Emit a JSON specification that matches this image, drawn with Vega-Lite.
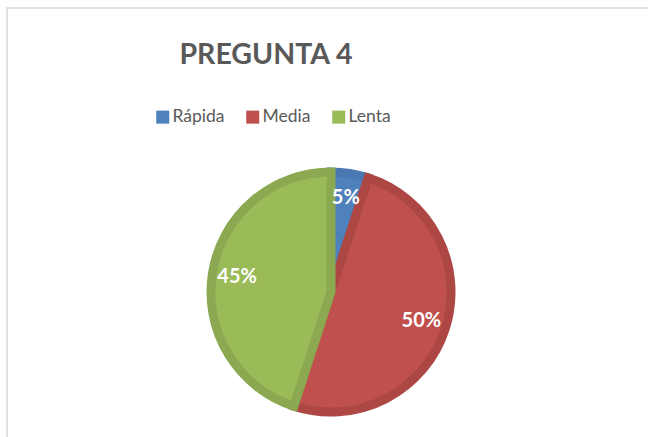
{
  "$schema": "https://vega.github.io/schema/vega-lite/v6.json",
  "autosize": {"type": "none"},
  "width": 648,
  "height": 568,
  "padding": {"left": 7, "top": 8, "right": 0, "bottom": 0},
  "background": "white",
  "view": {"stroke": "#d9d9d9", "strokeWidth": 1.5},
  "title": {
    "text": "PREGUNTA 4",
    "font": "Lato",
    "fontSize": 28.5,
    "fontWeight": "bold",
    "color": "#595959",
    "anchor": "middle",
    "orient": "top",
    "baseline": "alphabetic",
    "dx": -65,
    "dy": 84,
    "offset": 0
  },
  "data": {
    "values": [
      {"categoria": "Rápida", "valor": 5, "etiqueta": "5%", "orden": 1},
      {"categoria": "Media", "valor": 50, "etiqueta": "50%", "orden": 2},
      {"categoria": "Lenta", "valor": 45, "etiqueta": "45%", "orden": 3}
    ]
  },
  "encoding": {
    "theta": {"field": "valor", "type": "quantitative", "stack": true},
    "order": {"field": "orden", "type": "quantitative"}
  },
  "layer": [
    {
      "mark": {"type": "arc", "outerRadius": 120, "strokeWidth": 9, "strokeJoin": "miter"},
      "encoding": {
        "color": {
          "field": "categoria",
          "type": "nominal",
          "sort": ["Rápida", "Media", "Lenta"],
          "scale": {"domain": ["Rápida", "Media", "Lenta"], "range": ["#4F81BD", "#C0504D", "#9BBB59"]},
          "legend": {
            "title": null,
            "orient": "none",
            "direction": "horizontal",
            "legendX": 147,
            "legendY": 100,
            "symbolType": "square",
            "symbolSize": 170,
            "symbolStrokeWidth": 0,
            "labelFont": "Lato",
            "labelFontSize": 17.5,
            "labelColor": "#595959",
            "labelOffset": 1,
            "columnPadding": 19
          }
        },
        "stroke": {
          "field": "categoria",
          "type": "nominal",
          "scale": {"domain": ["Rápida", "Media", "Lenta"], "range": ["#4A78B0", "#AC4744", "#8CA951"]},
          "legend": null
        }
      }
    },
    {
      "mark": {"type": "text", "radius": 95, "font": "Lato", "fontSize": 20, "fontWeight": "bold", "color": "white"},
      "encoding": {
        "text": {"field": "etiqueta", "type": "nominal"}
      }
    }
  ]
}
